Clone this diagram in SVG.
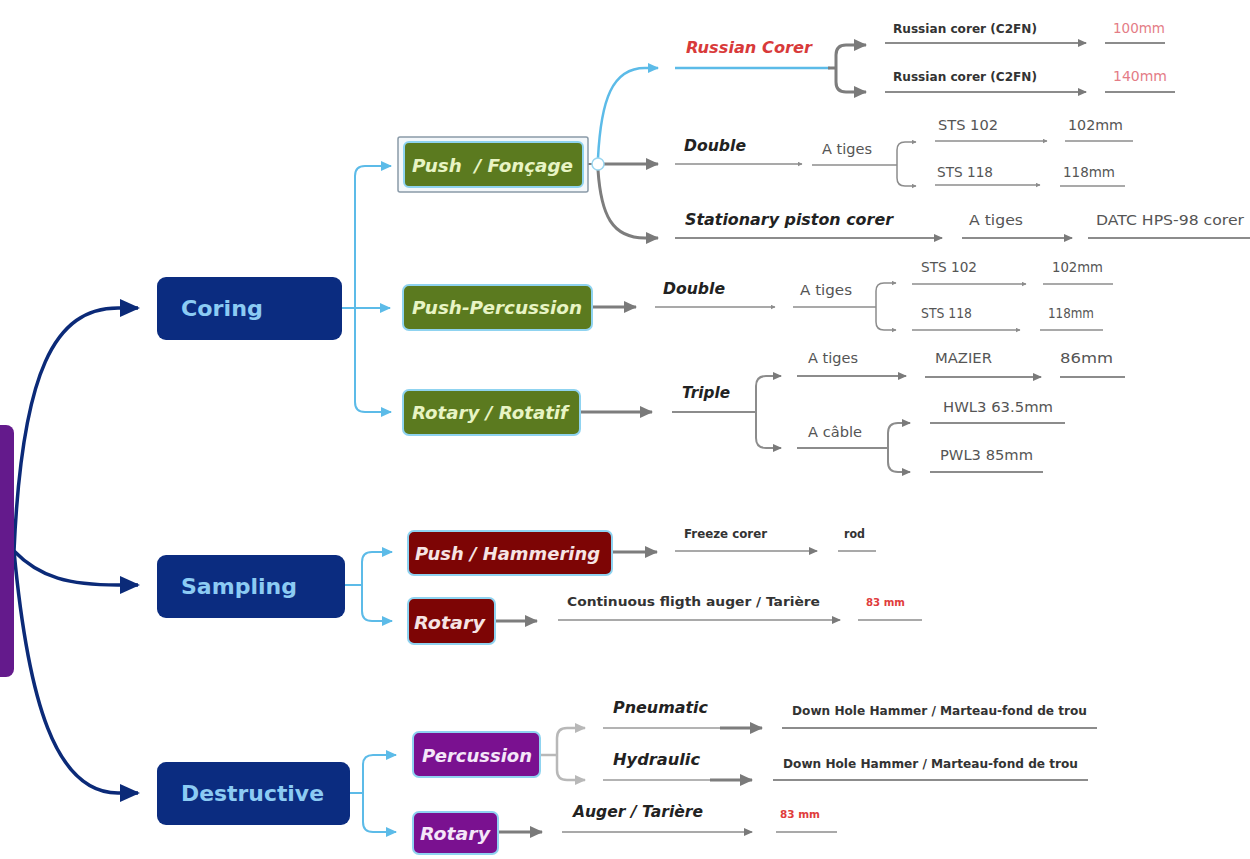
<svg xmlns="http://www.w3.org/2000/svg" width="1250" height="859" viewBox="0 0 1250 859">
<defs>
<style>
.ntxt{font-family:"DejaVu Sans",sans-serif;font-weight:bold;font-size:22px;fill:#8ccbf3}
.bi{font-family:"DejaVu Sans",sans-serif;font-weight:bold;font-style:italic;font-size:18px}
.lbl{font-family:"DejaVu Sans",sans-serif;font-weight:bold;font-style:italic;font-size:16px;fill:#222}
.reg{font-family:"DejaVu Sans",sans-serif;font-size:14.5px;fill:#555}
.sm{font-family:"DejaVu Sans",sans-serif;font-weight:bold;font-size:11.5px;fill:#333}
.mm{font-family:"DejaVu Sans",sans-serif;font-size:14px;fill:#e47c86}
.mmr{font-family:"DejaVu Sans",sans-serif;font-weight:bold;font-size:10.5px;fill:#e03c3c}
.navy{fill:#0b2c80}
.green{fill:#5b7a1f;stroke:#8fd3f0;stroke-width:2}
.red{fill:#7d0505;stroke:#8fd3f0;stroke-width:2}
.purple{fill:#7a1190;stroke:#8fd3f0;stroke-width:2}
.cn{fill:none;stroke:#0b2a78;stroke-width:3.5}
.cb{fill:none;stroke:#5cbbe8;stroke-width:2}
.cg{fill:none;stroke:#7d7d7d;stroke-width:3}
.ct{fill:none;stroke:#8c8c8c;stroke-width:1.5}
.cu{fill:none;stroke:#8c8c8c;stroke-width:2}
.cl{fill:none;stroke:#b8b8b8;stroke-width:2.5}
</style>
<marker id="mNavy" viewBox="0 0 20 18" refX="18" refY="9" markerWidth="20" markerHeight="18" orient="auto" markerUnits="userSpaceOnUse"><path d="M0,0 L20,9 L0,18 z" fill="#0b2a78"/></marker>
<marker id="mBlue" viewBox="0 0 11 10" refX="10" refY="5" markerWidth="11" markerHeight="10" orient="auto" markerUnits="userSpaceOnUse"><path d="M0,0 L11,5 L0,10 z" fill="#5cbbe8"/></marker>
<marker id="mGL" viewBox="0 0 13 12" refX="12" refY="6" markerWidth="13" markerHeight="12" orient="auto" markerUnits="userSpaceOnUse"><path d="M0,0 L13,6 L0,12 z" fill="#7a7a7a"/></marker>
<marker id="mGM" viewBox="0 0 9 8" refX="8" refY="4" markerWidth="9" markerHeight="8" orient="auto" markerUnits="userSpaceOnUse"><path d="M0,0 L9,4 L0,8 z" fill="#7a7a7a"/></marker>
<marker id="mGS" viewBox="0 0 5 5" refX="4.5" refY="2.5" markerWidth="5" markerHeight="5" orient="auto" markerUnits="userSpaceOnUse"><path d="M0,0 L5,2.5 L0,5 z" fill="#8c8c8c"/></marker>
<marker id="mLG" viewBox="0 0 11 10" refX="10" refY="5" markerWidth="11" markerHeight="10" orient="auto" markerUnits="userSpaceOnUse"><path d="M0,0 L11,5 L0,10 z" fill="#b8b8b8"/></marker>
</defs>
<rect width="1250" height="859" fill="#ffffff"/>

<g id="connectors">
<!-- root -->
<path class="cn" d="M4 551 L14 551"/>
<path class="cn" d="M14 551 C 22 370, 55 308, 118 308 L 138 308" marker-end="url(#mNavy)"/>
<path class="cn" d="M14 551 C 40 578, 70 585, 118 585 L 138 585" marker-end="url(#mNavy)"/>
<path class="cn" d="M14 551 C 28 700, 55 793, 118 793 L 138 793" marker-end="url(#mNavy)"/>
<!-- coring -->
<path class="cb" d="M342 308 L390 308" marker-end="url(#mBlue)"/>
<path class="cb" d="M355 308 L355 176 Q355 166 365 166 L391 166" marker-end="url(#mBlue)"/>
<path class="cb" d="M355 308 L355 402 Q355 412 365 412 L391 412" marker-end="url(#mBlue)"/>
<!-- sampling -->
<path class="cb" d="M345 585 L362 585"/>
<path class="cb" d="M362 585 L362 562 Q362 552 372 552 L392 552" marker-end="url(#mBlue)"/>
<path class="cb" d="M362 585 L362 611 Q362 621 372 621 L392 621" marker-end="url(#mBlue)"/>
<!-- destructive -->
<path class="cb" d="M350 793 L363 793"/>
<path class="cb" d="M363 793 L363 765 Q363 755 373 755 L396 755" marker-end="url(#mBlue)"/>
<path class="cb" d="M363 793 L363 822 Q363 832 373 832 L396 832" marker-end="url(#mBlue)"/>

<!-- push / foncage -->
<path class="cg" d="M588 164 L592 164" style="stroke-width:2"/>
<path class="cb" d="M598 158 C 601 100, 612 68, 645 68 L 658 68" style="stroke-width:2.5" marker-end="url(#mBlue)"/>
<path class="cg" d="M604 164 L658 164" marker-end="url(#mGL)"/>
<path class="cg" d="M598 170 C 601 215, 612 238, 645 238 L 658 238" marker-end="url(#mGL)"/>
<circle cx="598" cy="164" r="6" fill="#ffffff" stroke="#9ad6f0" stroke-width="1.5"/>

<!-- russian corer -->
<path class="cb" d="M675 68 L830 68" style="stroke-width:2.5"/>
<path class="cg" d="M828 68 L836 68"/>
<path class="cg" d="M836 68 L836 55 Q836 45 846 45 L866 45" marker-end="url(#mGL)"/>
<path class="cg" d="M836 68 L836 82 Q836 92 846 92 L866 92" marker-end="url(#mGL)"/>
<path class="cu" d="M885 43 L1086 43" marker-end="url(#mGM)"/>
<path class="cu" d="M1105 43 L1165 43"/>
<path class="cu" d="M885 92 L1086 92" marker-end="url(#mGM)"/>
<path class="cu" d="M1105 92 L1175 92"/>

<!-- double top -->
<path class="ct" d="M675 164 L802 164" marker-end="url(#mGS)"/>
<path class="ct" d="M812 165 L897 165"/>
<path class="ct" d="M897 165 L897 150 Q897 142 905 142 L916 142" marker-end="url(#mGS)"/>
<path class="ct" d="M897 165 L897 178 Q897 186 905 186 L916 186" marker-end="url(#mGS)"/>
<path class="ct" d="M935 141 L1047 141" marker-end="url(#mGS)"/>
<path class="ct" d="M1065 141 L1133 141"/>
<path class="ct" d="M935 185 L1040 185" marker-end="url(#mGS)"/>
<path class="ct" d="M1060 186 L1125 186"/>

<!-- stationary -->
<path class="cu" d="M675 238 L942 238" marker-end="url(#mGM)"/>
<path class="cu" d="M962 238 L1072 238" marker-end="url(#mGM)"/>
<path class="cu" d="M1088 238 L1250 238"/>

<!-- push-percussion -->
<path class="cg" d="M592 307 L636 307" marker-end="url(#mGL)"/>
<path class="ct" d="M655 307 L775 307" marker-end="url(#mGS)"/>
<path class="ct" d="M793 307 L876 307"/>
<path class="ct" d="M876 307 L876 291 Q876 283 884 283 L896 283" marker-end="url(#mGS)"/>
<path class="ct" d="M876 307 L876 322 Q876 330 884 330 L896 330" marker-end="url(#mGS)"/>
<path class="ct" d="M912 284 L1026 284" marker-end="url(#mGS)"/>
<path class="ct" d="M1043 284 L1113 284"/>
<path class="ct" d="M912 330 L1020 330" marker-end="url(#mGS)"/>
<path class="ct" d="M1040 330 L1103 330"/>

<!-- rotary / rotatif -->
<path class="cg" d="M580 412 L652 412" marker-end="url(#mGL)"/>
<path class="cu" d="M672 412 L756 412"/>
<path class="cu" d="M756 412 L756 386 Q756 376 766 376 L781 376" marker-end="url(#mGM)"/>
<path class="cu" d="M756 412 L756 438 Q756 448 766 448 L781 448" marker-end="url(#mGM)"/>
<path class="cu" d="M797 376 L906 376" marker-end="url(#mGM)"/>
<path class="cu" d="M925 377 L1041 377" marker-end="url(#mGM)"/>
<path class="cu" d="M1060 377 L1125 377"/>
<path class="cu" d="M797 448 L888 448"/>
<path class="cu" d="M888 448 L888 433 Q888 423 898 423 L910 423" marker-end="url(#mGM)"/>
<path class="cu" d="M888 448 L888 462 Q888 472 898 472 L910 472" marker-end="url(#mGM)"/>
<path class="cu" d="M930 423 L1065 423"/>
<path class="cu" d="M930 472 L1043 472"/>

<!-- sampling children -->
<path class="cg" d="M612 552 L657 552" marker-end="url(#mGL)"/>
<path class="ct" d="M675 551 L817 551" marker-end="url(#mGM)"/>
<path class="ct" d="M838 551 L876 551"/>
<path class="cg" d="M495 621 L537 621" marker-end="url(#mGL)"/>
<path class="ct" d="M558 620 L840 620" marker-end="url(#mGM)"/>
<path class="ct" d="M858 620 L922 620"/>

<!-- destructive children -->
<path class="cl" d="M540 755 L557 755"/>
<path class="cl" d="M557 755 L557 738 Q557 728 567 728 L585 728" marker-end="url(#mLG)"/>
<path class="cl" d="M557 755 L557 770 Q557 780 567 780 L585 780" marker-end="url(#mLG)"/>
<path class="ct" d="M603 728 L722 728" style="stroke:#9a9a9a"/>
<path class="cg" d="M720 728 L762 728" marker-end="url(#mGL)"/>
<path class="cu" d="M782 728 L1097 728"/>
<path class="ct" d="M603 780 L712 780" style="stroke:#9a9a9a"/>
<path class="cg" d="M710 780 L752 780" marker-end="url(#mGL)"/>
<path class="cu" d="M773 780 L1088 780"/>
<path class="cg" d="M498 832 L542 832" marker-end="url(#mGL)"/>
<path class="ct" d="M562 832 L752 832" marker-end="url(#mGM)"/>
<path class="ct" d="M776 832 L837 832"/>
</g>

<g id="root"><rect x="-20" y="425" width="34" height="252" rx="8" fill="#641a8c"/></g>

<g id="coring"><rect class="navy" x="157" y="277" width="185" height="63" rx="9"/><text class="ntxt" x="181" y="316" textLength="82" lengthAdjust="spacingAndGlyphs">Coring</text></g>
<g id="sampling"><rect class="navy" x="157" y="555" width="188" height="63" rx="9"/><text class="ntxt" x="181" y="594" textLength="116" lengthAdjust="spacingAndGlyphs">Sampling</text></g>
<g id="destructive"><rect class="navy" x="157" y="762" width="193" height="63" rx="9"/><text class="ntxt" x="181" y="801" textLength="143" lengthAdjust="spacingAndGlyphs">Destructive</text></g>

<g id="push-foncage"><rect x="398" y="137" width="190" height="55" rx="2" fill="#f3f7fa" stroke="#8a9aa8" stroke-width="1.5"/><rect class="green" x="404" y="142" width="179" height="45" rx="5"/><text class="bi" x="412" y="172" fill="#e8f4c4" style="white-space:pre" textLength="161" lengthAdjust="spacingAndGlyphs">Push  / Fonçage</text></g>
<g id="push-percussion"><rect class="green" x="403" y="285" width="189" height="45" rx="6"/><text class="bi" x="412" y="314" fill="#e8f4c4" textLength="170" lengthAdjust="spacingAndGlyphs">Push-Percussion</text></g>
<g id="rotary-rotatif"><rect class="green" x="403" y="390" width="177" height="45" rx="6"/><text class="bi" x="412" y="419" fill="#e8f4c4" textLength="156" lengthAdjust="spacingAndGlyphs">Rotary / Rotatif</text></g>

<g id="push-hammering"><rect class="red" x="408" y="531" width="204" height="44" rx="6"/><text class="bi" x="415" y="560" fill="#f6e4e4" textLength="185" lengthAdjust="spacingAndGlyphs">Push / Hammering</text></g>
<g id="sampling-rotary"><rect class="red" x="408" y="598" width="87" height="46" rx="6"/><text class="bi" x="414" y="629" fill="#f6e4e4" textLength="71" lengthAdjust="spacingAndGlyphs">Rotary</text></g>

<g id="percussion"><rect class="purple" x="413" y="732" width="127" height="45" rx="6"/><text class="bi" x="422" y="762" fill="#f4e6f8" textLength="110" lengthAdjust="spacingAndGlyphs">Percussion</text></g>
<g id="destructive-rotary"><rect class="purple" x="413" y="812" width="85" height="42" rx="6"/><text class="bi" x="420" y="840" fill="#f4e6f8" textLength="70" lengthAdjust="spacingAndGlyphs">Rotary</text></g>

<g id="russian-corer"><text class="lbl" x="686" y="53" fill="#d83a3a" style="fill:#d83a3a" textLength="126" lengthAdjust="spacingAndGlyphs">Russian Corer</text></g>
<g id="rc1"><text class="sm" x="893" y="33" textLength="144" lengthAdjust="spacingAndGlyphs">Russian corer (C2FN)</text></g>
<g id="mm100"><text class="mm" x="1113" y="33" textLength="52" lengthAdjust="spacingAndGlyphs">100mm</text></g>
<g id="rc2"><text class="sm" x="893" y="81" textLength="144" lengthAdjust="spacingAndGlyphs">Russian corer (C2FN)</text></g>
<g id="mm140"><text class="mm" x="1113" y="81" textLength="54" lengthAdjust="spacingAndGlyphs">140mm</text></g>

<g id="double1"><text class="lbl" x="684" y="151" textLength="62" lengthAdjust="spacingAndGlyphs">Double</text></g>
<g id="atiges1"><text class="reg" x="822" y="154" textLength="50" lengthAdjust="spacingAndGlyphs">A tiges</text></g>
<g id="sts102a"><text class="reg" x="938" y="130" textLength="60" lengthAdjust="spacingAndGlyphs">STS 102</text></g>
<g id="mm102a"><text class="reg" x="1068" y="130" textLength="55" lengthAdjust="spacingAndGlyphs">102mm</text></g>
<g id="sts118a"><text class="reg" x="937" y="177" textLength="56" lengthAdjust="spacingAndGlyphs">STS 118</text></g>
<g id="mm118a"><text class="reg" x="1063" y="177" textLength="52" lengthAdjust="spacingAndGlyphs">118mm</text></g>

<g id="stationary"><text class="lbl" x="685" y="225" textLength="208" lengthAdjust="spacingAndGlyphs">Stationary piston corer</text></g>
<g id="atiges2"><text class="reg" x="969" y="225" textLength="54" lengthAdjust="spacingAndGlyphs">A tiges</text></g>
<g id="datc"><text class="reg" x="1096" y="225" textLength="148" lengthAdjust="spacingAndGlyphs">DATC HPS-98 corer</text></g>

<g id="double2"><text class="lbl" x="663" y="294" textLength="62" lengthAdjust="spacingAndGlyphs">Double</text></g>
<g id="atiges3"><text class="reg" x="800" y="295" textLength="52" lengthAdjust="spacingAndGlyphs">A tiges</text></g>
<g id="sts102b"><text class="reg" x="921" y="272" textLength="56" lengthAdjust="spacingAndGlyphs">STS 102</text></g>
<g id="mm102b"><text class="reg" x="1052" y="272" textLength="51" lengthAdjust="spacingAndGlyphs">102mm</text></g>
<g id="sts118b"><text class="reg" x="921" y="318" textLength="51" lengthAdjust="spacingAndGlyphs">STS 118</text></g>
<g id="mm118b"><text class="reg" x="1048" y="318" textLength="46" lengthAdjust="spacingAndGlyphs">118mm</text></g>

<g id="triple"><text class="lbl" x="682" y="398" textLength="48" lengthAdjust="spacingAndGlyphs">Triple</text></g>
<g id="atiges4"><text class="reg" x="808" y="363" textLength="50" lengthAdjust="spacingAndGlyphs">A tiges</text></g>
<g id="mazier"><text class="reg" x="935" y="363" textLength="57" lengthAdjust="spacingAndGlyphs">MAZIER</text></g>
<g id="mm86"><text class="reg" x="1060" y="363" textLength="53" lengthAdjust="spacingAndGlyphs">86mm</text></g>
<g id="acable"><text class="reg" x="808" y="437" textLength="54" lengthAdjust="spacingAndGlyphs">A câble</text></g>
<g id="hwl3"><text class="reg" x="943" y="412" textLength="110" lengthAdjust="spacingAndGlyphs">HWL3 63.5mm</text></g>
<g id="pwl3"><text class="reg" x="940" y="460" textLength="93" lengthAdjust="spacingAndGlyphs">PWL3 85mm</text></g>

<g id="freeze"><text class="sm" x="684" y="538" textLength="83" lengthAdjust="spacingAndGlyphs">Freeze corer</text></g>
<g id="rod"><text class="sm" x="844" y="538" textLength="21" lengthAdjust="spacingAndGlyphs">rod</text></g>
<g id="cfa"><text class="sm" x="567" y="606" textLength="253" lengthAdjust="spacingAndGlyphs">Continuous fligth auger / Tarière</text></g>
<g id="mm83a"><text class="mmr" x="866" y="606" textLength="39" lengthAdjust="spacingAndGlyphs">83 mm</text></g>

<g id="pneumatic"><text class="lbl" x="613" y="713" textLength="95" lengthAdjust="spacingAndGlyphs">Pneumatic</text></g>
<g id="dhh1"><text class="sm" x="792" y="715" textLength="295" lengthAdjust="spacingAndGlyphs">Down Hole Hammer / Marteau-fond de trou</text></g>
<g id="hydraulic"><text class="lbl" x="613" y="765" textLength="87" lengthAdjust="spacingAndGlyphs">Hydraulic</text></g>
<g id="dhh2"><text class="sm" x="783" y="768" textLength="295" lengthAdjust="spacingAndGlyphs">Down Hole Hammer / Marteau-fond de trou</text></g>
<g id="auger"><text class="lbl" x="573" y="817" textLength="130" lengthAdjust="spacingAndGlyphs">Auger / Tarière</text></g>
<g id="mm83b"><text class="mmr" x="780" y="818" textLength="40" lengthAdjust="spacingAndGlyphs">83 mm</text></g>
</svg>
